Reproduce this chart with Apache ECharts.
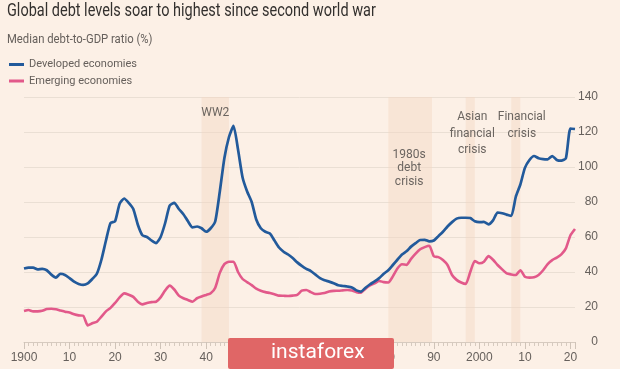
<!DOCTYPE html>
<html>
<head>
<meta charset="utf-8">
<script src="https://cdn.jsdelivr.net/npm/echarts@6/dist/echarts.min.js"></script>
<style>
html,body{margin:0;padding:0;background:#fcf0e6;}
#chart{width:620px;height:369px;}
</style>
</head>
<body>
<div id="chart"></div>
<script>
var startYear = 1900;
var developed = [
42,42.5,42.5,41.5,41.8,41,38.5,36.8,39,38.3,
36.5,34.5,33.2,32.6,33.5,36,39,47,58,68,
69,79,82,79.5,76,67,61,60,58,56.5,
60,68,78,79.5,76,73,69,65.5,66,65,
63,65,69,86,105,117,123.5,110,94,86,
80,70,65,63,62,58,54,51.6,50,48,
45.5,43.5,41.8,40.5,38.5,36.5,35.3,34.5,33.6,32.4,
32,31.7,31.2,29.5,28.8,31,33,34.6,36.5,39,
41,44,47,50,51.8,54.5,56.5,58.3,58.4,57.5,
58,60.5,63,66,68.5,70.5,71,71,70.8,69,
68.5,68.6,67.2,69.5,74,73.6,72.8,72,83,90,
99.5,104,106.3,105,104.5,104.4,106.3,104,103.6,105,
122,121.7
];
var emerging = [
17.7,18.3,17.5,17.5,17.8,18.8,19,18.7,18,17.3,
16.8,15.8,15.2,15,9.5,10.7,11.6,14.5,17.5,19.5,
22.3,25.5,27.8,27,25.8,23,21.5,22.3,22.8,23,
25.5,29.5,32.2,30,26.5,25,24,23,25,26,
26.9,27.8,31,39.5,44.5,45.9,45.9,40,36,34.2,
32.5,30.5,29.3,28.5,28,27.3,26.5,26.4,26.3,26.5,
26.9,29.3,29.7,28.5,27.4,27.6,28,28.8,29.2,29.3,
29.5,29.7,29.4,28.5,28.2,30.5,32.3,33.5,34.9,34.2,
34,37.5,42,44.4,44.1,47.5,50.5,53,54.2,55,
49,48.5,46.8,44,38.3,35.5,34,33.2,40,46.3,
45,45.9,49.1,47,44,41.5,39.2,38.6,38.3,41,
37.3,36.8,37,38.3,41,44.5,46.8,48.2,50.1,53.5,
61,64.6
];
var xTickYears  = [1900,1910,1920,1930,1940,1950,1960,1970,1980,1990,2000,2010,2020];
var xTickLabels = ['1900','10','20','30','40','50','60','70','80','90','2000','10','20'];
var yTicks = [0,20,40,60,80,100,120,140];
var bandStarts = [1939, 1980, 1997, 2007];
var bandEnds   = [1945, 1989.6, 1999, 2009];
var bandLabels = ['WW2', '1980s\ndebt\ncrisis', 'Asian\nfinancial\ncrisis', 'Financial\ncrisis'];
var seriesNames = ['Developed economies', 'Emerging economies'];
var titleText = 'Global debt levels soar to highest since second world war';
var subtitleText = 'Median debt-to-GDP ratio (%)';

var bandLabelStyle = [
  {lineHeight: 14, offset: [0, 9]},
  {lineHeight: 13.5, offset: [-1, 51]},
  {lineHeight: 16.5, offset: [2, 12]},
  {lineHeight: 16.5, offset: [6, 12]}
];

function pairs(arr){ return arr.map(function(v,i){ return [startYear+i, v]; }); }

var areas = bandStarts.map(function(s,i){
  return [{
    xAxis: s, yAxis: yTicks[0], name: bandLabels[i],
    label: {
      show: true, position: 'insideTop', distance: 0,
      offset: bandLabelStyle[i].offset,
      lineHeight: bandLabelStyle[i].lineHeight,
      color: '#6b6560', fontSize: 12, align: 'center',
      fontFamily: 'Roboto, sans-serif'
    }
  }, {xAxis: bandEnds[i], yAxis: yTicks[yTicks.length-1]}];
});

var chart = echarts.init(document.getElementById('chart'), null, {renderer:'canvas'});
var labelMap = {};
xTickYears.forEach(function(y,i){ labelMap[y] = xTickLabels[i]; });

chart.setOption({
  backgroundColor: '#fcf0e6',
  animation: false,
  legend: {
    orient: 'vertical', left: 9, top: 59, padding: 0,
    icon: 'rect', itemWidth: 15, itemHeight: 3, itemGap: 5.5,
    textStyle: {color:'#66605c', fontSize: 11, fontFamily: 'Roboto, sans-serif'},
    data: seriesNames
  },
  grid: {left: 24, right: 45, top: 97, bottom: 27, containLabel: false},
  xAxis: {
    type: 'value', min: 1900, max: 2021, interval: 10,
    axisLine: {show: true, lineStyle: {color: '#d6cabf', width: 1}},
    axisTick: {show: true, length: 7, lineStyle: {color: '#cfc3b8'}},
    minorTick: {show: true, splitNumber: 10, length: 4, lineStyle: {color: '#d6cabf'}},
    splitLine: {show: false},
    axisLabel: {
      color: '#66605c', fontSize: 12, margin: 10,
      fontFamily: 'Liberation Sans, sans-serif',
      formatter: function(v){ return labelMap[v] !== undefined ? labelMap[v] : ''; }
    }
  },
  yAxis: {
    type: 'value', position: 'right', min: 0, max: 140, interval: 20,
    axisLine: {show: false}, axisTick: {show: false},
    splitLine: {show: true, lineStyle: {color: '#eadfd4', width: 1}},
    axisLabel: {color: '#66605c', fontSize: 12, align: 'right', margin: 23, fontFamily: 'Liberation Sans, sans-serif'}
  },
  series: [{
    type: 'line', name: 'bands', data: [], z: 1, silent: true,
    markArea: {silent: true, itemStyle: {color: 'rgba(245,214,196,0.45)'}, data: areas}
  },{
    type: 'line', name: seriesNames[0], data: pairs(developed), z: 3,
    showSymbol: false, symbol: 'none', smooth: 0.2,
    lineStyle: {color: '#225a9b', width: 2.7}, itemStyle: {color: '#225a9b'}
  },{
    type: 'line', name: seriesNames[1], data: pairs(emerging), z: 2,
    showSymbol: false, symbol: 'none', smooth: 0.2,
    lineStyle: {color: '#e2598a', width: 2.6}, itemStyle: {color: '#e2598a'}
  }],
  graphic: [{
    type: 'text', x: 7, y: 2, scaleX: 0.805, scaleY: 1,
    style: {text: titleText, fill: '#33302e', fontSize: 18, fontFamily: 'Roboto, sans-serif'}
  },{
    type: 'text', x: 7, y: 33, scaleX: 0.87, scaleY: 1,
    style: {text: subtitleText, fill: '#66605c', fontSize: 13, fontFamily: 'Roboto, sans-serif'}
  },{
    type: 'rect', left: 228, top: 338, z: 100,
    shape: {width: 166, height: 31, r: 2},
    style: {fill: '#e06666'}
  },{
    type: 'text', left: 271, top: 342, z: 101,
    style: {text: 'instaforex', fill: '#ffffff', fontSize: 21, fontFamily: 'Roboto, sans-serif'}
  }]
});
</script>
</body>
</html>
